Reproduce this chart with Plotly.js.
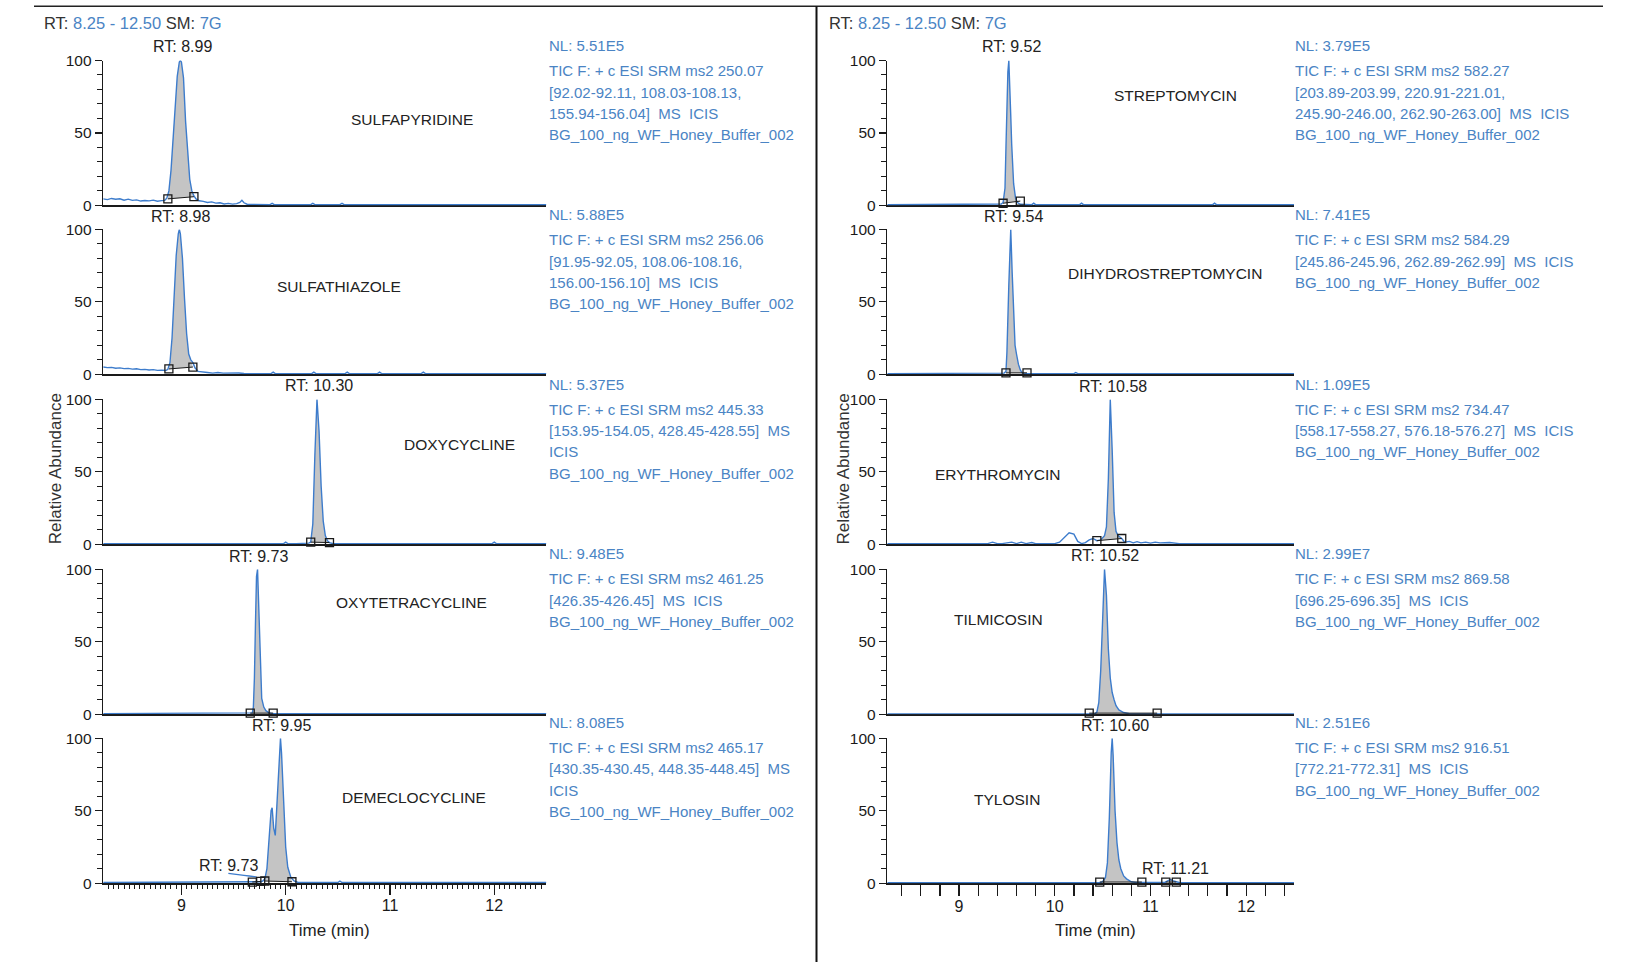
<!DOCTYPE html>
<html><head><meta charset="utf-8">
<script src="https://cdn.plot.ly/plotly-3.0.1.min.js"></script>
<style>html,body{margin:0;padding:0;background:#fff;}#chart{width:1635px;height:962px;}</style>
</head><body><div id="chart"></div>
<script>
// ---------------- DATA ----------------
const compound_names = ["SULFAPYRIDINE","SULFATHIAZOLE","DOXYCYCLINE","OXYTETRACYCLINE","DEMECLOCYCLINE",
                        "STREPTOMYCIN","DIHYDROSTREPTOMYCIN","ERYTHROMYCIN","TILMICOSIN","TYLOSIN"];
const x_tick_labels = ["9","10","11","12"];
const y_tick_labels = ["0","50","100"];

// 1 Sulfapyridine
const sulfapyridine_t = [8.25,8.29,8.33,8.37,8.41,8.45,8.49,8.53,8.57,8.61,8.65,8.69,8.73,8.77,8.81,8.84,
  8.86,8.88,8.90,8.92,8.94,8.96,8.98,8.99,9.00,9.02,9.04,9.06,9.08,9.10,9.12,9.14,
  9.17,9.21,9.25,9.29,9.33,9.37,9.41,9.45,9.49,9.53,9.56,9.58,9.60,9.63,9.70,9.80,
  9.85,9.87,9.89,9.95,10.1,10.24,10.26,10.28,10.4,10.52,10.54,10.56,10.7,11.0,11.5,12.0,12.5];
const sulfapyridine_y = [4.5,4.0,4.8,4.2,4.6,3.6,4.3,3.5,3.8,3.0,3.4,3.1,3.6,2.9,3.3,3.5,
  5,10,24,47,70,89,99,100,99,88,58,34,18,10,6.5,4.5,
  3.2,2.8,2.0,2.4,1.6,1.8,1.0,1.4,0.9,1.2,2.0,3.5,1.8,0.8,0.6,0.5,
  0.5,1.5,0.5,0.5,0.5,0.5,1.5,0.5,0.5,0.5,1.5,0.5,0.5,0.5,0.5,0.5,0.5];
const sulfapyridine_mk_t = [8.87,9.12];
const sulfapyridine_mk_y = [4.5,6];

// 2 Sulfathiazole
const sulfathiazole_t = [8.25,8.29,8.33,8.37,8.41,8.45,8.49,8.53,8.57,8.61,8.65,8.69,8.73,8.77,8.81,8.85,
  8.87,8.89,8.91,8.93,8.95,8.97,8.98,8.99,9.01,9.03,9.05,9.07,9.09,9.11,9.13,
  9.16,9.20,9.25,9.30,9.35,9.40,9.45,9.50,9.55,9.60,9.65,9.70,9.80,
  9.86,9.88,9.90,10.0,10.1,10.25,10.27,10.29,10.4,10.57,10.59,10.61,10.8,10.88,10.90,10.92,11.0,11.3,11.32,11.34,11.5,12.0,12.5];
const sulfathiazole_y = [5,4.6,4.8,4.2,4.4,3.9,4.1,3.6,3.8,3.2,3.4,3.0,3.2,2.7,2.9,2.6,
  3.5,8,25,55,82,97,100,97,80,52,28,14,10,8,4.5,
  2.0,1.5,1.2,0.8,1.2,0.8,1.0,0.7,0.9,0.6,0.8,0.5,0.5,
  0.5,1.5,0.5,0.5,0.5,0.5,1.5,0.5,0.5,0.5,1.5,0.5,0.5,0.5,1.5,0.5,0.5,0.5,1.5,0.5,0.5,0.5,0.5];
const sulfathiazole_mk_t = [8.88,9.11];
const sulfathiazole_mk_y = [3.7,5];

// 3 Doxycycline
const doxycycline_t = [8.25,8.6,9.0,9.4,9.45,9.5,9.55,9.6,9.8,9.98,10.0,10.02,10.1,
  10.20,10.22,10.24,10.26,10.28,10.30,10.32,10.34,10.36,10.38,10.40,10.42,10.45,
  10.6,11.0,11.5,11.98,12.0,12.02,12.5];
const doxycycline_y = [0.5,0.5,0.5,0.5,1.0,0.6,1.0,0.5,0.5,0.5,1.5,0.5,0.5,
  0.6,0.8,1.5,14,62,100,78,40,16,6,2.5,1.2,0.6,
  0.5,0.5,0.5,0.5,1.5,0.5,0.5];
const doxycycline_mk_t = [10.24,10.42];
const doxycycline_mk_y = [1.5,1.2];

// 4 Oxytetracycline
const oxytetracycline_t = [8.25,9.0,9.5,9.64,9.66,9.68,9.69,9.70,9.71,9.72,9.73,9.74,9.75,9.76,9.77,9.79,9.81,9.84,9.88,10.0,11.0,12.5];
const oxytetracycline_y = [0.5,0.5,0.5,0.5,0.5,1,5,25,62,95,100,78,45,22,11,5,2.5,1,0.5,0.5,0.5,0.5];
const oxytetracycline_mk_t = [9.66,9.88];
const oxytetracycline_mk_y = [0.8,0.8];

// 5 Demeclocycline
const demeclocycline_t = [8.25,9.0,9.5,9.70,9.76,9.78,9.80,9.82,9.84,9.86,9.87,9.885,9.90,9.92,9.94,9.95,9.96,9.98,10.00,10.02,10.05,10.08,10.12,10.3,10.50,10.52,10.54,11.0,12.5];
const demeclocycline_y = [0.5,0.5,0.5,0.5,1,1.5,3,10,30,50,52,38,33,62,95,100,90,55,25,11,4,1.5,0.5,0.5,0.5,1.5,0.5,0.5,0.5];
const demeclocycline_side_t = [9.45,9.50,9.55,9.60,9.65,9.70,9.72];
const demeclocycline_side_y = [6.8,6.2,5.8,5.4,5.0,4.6,4.3];
const demeclocycline_mk_t = [9.80,10.06,9.68,9.76];
const demeclocycline_mk_y = [1.5,1.0,0.8,1.2];

// 6 Streptomycin
const streptomycin_t = [8.25,9.0,9.40,9.44,9.46,9.48,9.49,9.50,9.51,9.52,9.53,9.54,9.55,9.57,9.59,9.61,9.64,9.70,9.76,9.78,9.80,10.0,10.26,10.28,10.30,11.0,11.65,11.67,11.69,12.5];
const streptomycin_y = [0.5,0.5,0.5,1,2,12,40,70,92,100,85,62,42,15,5,2,0.8,0.5,0.5,1.5,0.5,0.5,0.5,1.5,0.5,0.5,0.5,1.5,0.5,0.5];
const streptomycin_mk_t = [9.46,9.64];
const streptomycin_mk_y = [1.5,3];

// 7 Dihydrostreptomycin
const dihydrostreptomycin_t = [8.25,9.0,9.44,9.47,9.49,9.50,9.52,9.54,9.555,9.57,9.585,9.60,9.62,9.64,9.66,9.70,10.0,10.2,10.22,10.24,11.0,12.5];
const dihydrostreptomycin_y = [0.5,0.5,0.5,0.8,2,15,62,100,70,38,20,14,7,3,1,0.5,0.5,0.5,1.2,0.5,0.5,0.5];
const dihydrostreptomycin_mk_t = [9.49,9.71];
const dihydrostreptomycin_mk_y = [1,1];

// 8 Erythromycin
const erythromycin_t = [8.25,8.6,9.0,9.3,9.35,9.40,9.45,9.55,9.60,9.65,9.70,9.76,9.80,10.0,10.05,10.10,10.15,10.20,10.24,10.28,10.32,10.36,10.40,10.44,10.48,10.52,10.54,10.56,10.58,10.60,10.62,10.64,10.66,10.68,10.70,10.73,10.78,10.82,10.86,10.9,10.95,11.0,11.05,11.1,11.2,11.3,11.5,12.5];
const erythromycin_y = [0.5,0.5,0.5,0.5,1.5,0.5,0.5,1.5,0.5,1.5,0.5,1.2,0.5,0.5,1.5,4.5,8,7,2,0.5,1.2,3,4,2.5,3,6,12,45,100,65,22,9,6,5,4,1.5,2,1,1.8,1,1.5,0.8,1.5,1.0,1.2,0.5,0.5,0.5];
const erythromycin_mk_t = [10.44,10.70];
const erythromycin_mk_y = [2.5,4];

// 9 Tilmicosin
const tilmicosin_t = [8.25,9.0,10.0,10.36,10.42,10.44,10.46,10.48,10.50,10.52,10.54,10.56,10.58,10.60,10.62,10.64,10.67,10.72,10.78,11.0,12.5];
const tilmicosin_y = [0.3,0.3,0.3,0.3,0.3,1.5,8,30,72,100,82,45,25,15,10,6,3,1.2,0.4,0.3,0.3];
const tilmicosin_mk_t = [10.36,11.07];
const tilmicosin_mk_y = [0.8,0.8];

// 10 Tylosin
const tylosin_t = [8.25,9.0,10.0,10.45,10.47,10.50,10.53,10.55,10.57,10.59,10.60,10.61,10.63,10.65,10.67,10.69,10.72,10.75,10.80,10.85,11.0,11.15,11.19,11.21,11.24,11.30,12.5];
const tylosin_y = [0.3,0.3,0.3,0.3,0.3,1,4,14,45,90,100,88,50,28,16,10,5,3,1,0.5,0.3,0.5,2,2.5,1.5,0.5,0.3];
const tylosin_mk_t = [10.47,10.91,11.16,11.27];
const tylosin_mk_y = [0.8,0.8,0.8,0.8];

const rt_labels = ["RT: 8.99","RT: 8.98","RT: 10.30","RT: 9.73","RT: 9.95",
                   "RT: 9.52","RT: 9.54","RT: 10.58","RT: 10.52","RT: 10.60"];
const extra_rt_labels = ["RT: 9.73","RT: 11.21"];
const nl_labels = ["NL: 5.51E5","NL: 5.88E5","NL: 5.37E5","NL: 9.48E5","NL: 8.08E5",
                   "NL: 3.79E5","NL: 7.41E5","NL: 1.09E5","NL: 2.99E7","NL: 2.51E6"];
const method_lines = [
 ["TIC F: + c ESI SRM ms2 250.07","[92.02-92.11, 108.03-108.13,","155.94-156.04]  MS  ICIS","BG_100_ng_WF_Honey_Buffer_002"],
 ["TIC F: + c ESI SRM ms2 256.06","[91.95-92.05, 108.06-108.16,","156.00-156.10]  MS  ICIS","BG_100_ng_WF_Honey_Buffer_002"],
 ["TIC F: + c ESI SRM ms2 445.33","[153.95-154.05, 428.45-428.55]  MS","ICIS","BG_100_ng_WF_Honey_Buffer_002"],
 ["TIC F: + c ESI SRM ms2 461.25","[426.35-426.45]  MS  ICIS","BG_100_ng_WF_Honey_Buffer_002"],
 ["TIC F: + c ESI SRM ms2 465.17","[430.35-430.45, 448.35-448.45]  MS","ICIS","BG_100_ng_WF_Honey_Buffer_002"],
 ["TIC F: + c ESI SRM ms2 582.27","[203.89-203.99, 220.91-221.01,","245.90-246.00, 262.90-263.00]  MS  ICIS","BG_100_ng_WF_Honey_Buffer_002"],
 ["TIC F: + c ESI SRM ms2 584.29","[245.86-245.96, 262.89-262.99]  MS  ICIS","BG_100_ng_WF_Honey_Buffer_002"],
 ["TIC F: + c ESI SRM ms2 734.47","[558.17-558.27, 576.18-576.27]  MS  ICIS","BG_100_ng_WF_Honey_Buffer_002"],
 ["TIC F: + c ESI SRM ms2 869.58","[696.25-696.35]  MS  ICIS","BG_100_ng_WF_Honey_Buffer_002"],
 ["TIC F: + c ESI SRM ms2 916.51","[772.21-772.31]  MS  ICIS","BG_100_ng_WF_Honey_Buffer_002"]
];
const header_range = "8.25 - 12.50";
const header_sm = "7G";
const x_range = [8.25, 12.5];

// ---------------- LAYOUT / STYLE ----------------
const W = 1635, H = 962;
const FONT = "Liberation Sans, Arial, Helvetica, sans-serif";
const TXT_BLUE = "#4a84c4";
const LINE_BLUE = "#3d7ccc";
const FILL_GRAY = "#c4c4c4";
const DARK = "#1a1a1a";
const px = x => x / W;
const py = y => 1 - y / H;

const colX = [[103.2, 546.4], [887.3, 1294]];
const rowY = [[60.5,205.4],[229.4,374.3],[399.4,544.3],[569.3,714.3],[738.2,883.2]];

const panels = [
 {t:sulfapyridine_t, y:sulfapyridine_y, mt:sulfapyridine_mk_t, my:sulfapyridine_mk_y},
 {t:sulfathiazole_t, y:sulfathiazole_y, mt:sulfathiazole_mk_t, my:sulfathiazole_mk_y},
 {t:doxycycline_t, y:doxycycline_y, mt:doxycycline_mk_t, my:doxycycline_mk_y},
 {t:oxytetracycline_t, y:oxytetracycline_y, mt:oxytetracycline_mk_t, my:oxytetracycline_mk_y},
 {t:demeclocycline_t, y:demeclocycline_y, mt:demeclocycline_mk_t, my:demeclocycline_mk_y,
   st:demeclocycline_side_t, sy:demeclocycline_side_y},
 {t:streptomycin_t, y:streptomycin_y, mt:streptomycin_mk_t, my:streptomycin_mk_y},
 {t:dihydrostreptomycin_t, y:dihydrostreptomycin_y, mt:dihydrostreptomycin_mk_t, my:dihydrostreptomycin_mk_y},
 {t:erythromycin_t, y:erythromycin_y, mt:erythromycin_mk_t, my:erythromycin_mk_y},
 {t:tilmicosin_t, y:tilmicosin_y, mt:tilmicosin_mk_t, my:tilmicosin_mk_y},
 {t:tylosin_t, y:tylosin_y, mt:tylosin_mk_t, my:tylosin_mk_y}
];

// label positions (pixels)
const namePos = [[412,119],[339,286],[459,444],[411,602],[414,797],
                 [1175,95],[1165,273],[997,474],[998,619],[1007,799]];
const rtPos = [[182.5,46],[180,216],[319,386],[258.6,556],[281.5,725],
               [1011,46],[1013.5,216],[1112.5,387],[1105,555],[1114.6,725]];
const extraRtPos = [[229,865.5],[1175,868.5]];
const nlY = [45.9,214.8,384.3,553.7,722.6];
const textX = [547.4, 1293];

const traces = [];
const layout = {
  width: W, height: H, margin: {l:0,r:0,t:0,b:0},
  paper_bgcolor: "#fff", plot_bgcolor: "rgba(0,0,0,0)",
  showlegend: false, font: {family: FONT, color: DARK},
  annotations: [], shapes: []
};

const leftMinor = [];
for (let v = 8.30; v < 12.5; v += 0.05) leftMinor.push(+v.toFixed(2));
const rightTicks = [], rightText = [];
for (let v = 8.4; v < 12.5; v += 0.2) {
  const r = +v.toFixed(1);
  rightTicks.push(r);
  rightText.push(Math.abs(r - Math.round(r)) < 1e-6 ? String(Math.round(r)) : "");
}

panels.forEach((p, i) => {
  const col = i < 5 ? 0 : 1, row = i % 5, n = i + 1;
  const xa = "x" + (n === 1 ? "" : n), ya = "y" + (n === 1 ? "" : n);
  const xk = "xaxis" + (n === 1 ? "" : n), yk = "yaxis" + (n === 1 ? "" : n);
  const xd = [px(colX[col][0]), px(colX[col][1])];
  const yd = [py(rowY[row][1]), py(rowY[row][0])];
  const bottom = row === 4;
  const xax = {
    domain: xd, anchor: ya, range: x_range, showline: true, linecolor: DARK, linewidth: 1.5,
    showgrid: false, zeroline: false, layer: "below traces", fixedrange: true,
    showticklabels: bottom, ticks: bottom ? "outside" : ""
  };
  if (bottom) {
    xax.tickfont = {family: FONT, size: 16, color: DARK};
    xax.tickcolor = DARK; xax.tickwidth = 1.2;
    xax.ticklabelstandoff = -3;
    if (col === 0) {
      xax.tickmode = "array"; xax.tickvals = [9,10,11,12]; xax.ticktext = x_tick_labels;
      xax.ticklen = 10;
      xax.minor = {tickmode: "array", tickvals: leftMinor, ticklen: 4, ticks: "outside", tickcolor: DARK, tickwidth: 1};
    } else {
      xax.tickmode = "array"; xax.tickvals = rightTicks; xax.ticktext = rightText;
      xax.ticklen = 11;
    }
  }
  layout[xk] = xax;
  layout[yk] = {
    domain: yd, anchor: xa, range: [0, 100], showline: true, linecolor: DARK, linewidth: 1.5,
    showgrid: false, zeroline: false, fixedrange: true, layer: "below traces",
    ticks: "outside", tickmode: "array", tickvals: [0,50,100], ticktext: y_tick_labels,
    ticklen: 7, tickcolor: DARK, tickwidth: 1.2,
    tickfont: {family: FONT, size: 15.5, color: DARK},
    minor: {tickmode: "array", tickvals: [10,20,30,40,60,70,80,90], ticklen: 5, ticks: "outside", tickcolor: DARK, tickwidth: 1}
  };

  // fill between curve and integration baseline (first marker pair)
  const t0 = p.mt[0], t1 = p.mt[1], y0 = p.my[0], y1 = p.my[1];
  const fx = [t0], fy = [y0];
  p.t.forEach((tv, k) => { if (tv > t0 && tv < t1) { fx.push(tv); fy.push(p.y[k]); } });
  fx.push(t1); fy.push(y1);
  traces.push({x: fx, y: fy, xaxis: xa, yaxis: ya, mode: "lines", fill: "toself",
    fillcolor: FILL_GRAY, line: {width: 0, color: FILL_GRAY}, hoverinfo: "skip"});
  traces.push({x: p.t, y: p.y, xaxis: xa, yaxis: ya, mode: "lines",
    line: {color: LINE_BLUE, width: 1.4}, hoverinfo: "skip"});
  if (p.st) traces.push({x: p.st, y: p.sy, xaxis: xa, yaxis: ya, mode: "lines",
    line: {color: LINE_BLUE, width: 1.4}, hoverinfo: "skip"});
  // integration markers (pairs)
  const mx = [], my = [];
  for (let k = 0; k < p.mt.length; k += 2) {
    if (k > 0) { mx.push(null); my.push(null); }
    mx.push(p.mt[k], p.mt[k+1]); my.push(p.my[k], p.my[k+1]);
  }
  traces.push({x: mx, y: my, xaxis: xa, yaxis: ya, mode: "lines+markers", cliponaxis: false,
    line: {color: DARK, width: 1}, marker: {symbol: "square-open", size: 8, color: DARK, line: {width: 1.3, color: DARK}},
    hoverinfo: "skip"});

  const A = layout.annotations;
  const ann = (x, y, text, opts) => A.push(Object.assign({xref: "paper", yref: "paper", x: px(x), y: py(y),
      text: text, showarrow: false, xanchor: "center", yanchor: "middle",
      font: {family: FONT, size: 15, color: DARK}}, opts || {}));
  ann(namePos[i][0], namePos[i][1], compound_names[i], {font: {family: FONT, size: 15.5, color: "#222"}});
  ann(rtPos[i][0], rtPos[i][1], rt_labels[i], {font: {family: FONT, size: 16, color: "#222"}});
  ann(textX[col], nlY[row], nl_labels[i], {xanchor: "left", font: {family: FONT, size: 15, color: TXT_BLUE}});
  method_lines[i].forEach((ln, k) => {
    ann(textX[col], nlY[row] + 25 + k * 21.3, ln, {xanchor: "left", font: {family: FONT, size: 15, color: TXT_BLUE}});
  });
});

const A = layout.annotations;
extra_rt_labels.forEach((s, k) => A.push({xref: "paper", yref: "paper", x: px(extraRtPos[k][0]), y: py(extraRtPos[k][1]),
  text: s, showarrow: false, xanchor: "center", yanchor: "middle", font: {family: FONT, size: 16, color: "#222"}}));
[41.7, 827].forEach(x => A.push({xref: "paper", yref: "paper", x: px(x), y: py(23), xanchor: "left", yanchor: "middle",
  showarrow: false, font: {family: FONT, size: 16.5, color: "#333"},
  text: "RT: <span style='color:" + TXT_BLUE + "'>" + header_range + "</span> SM: <span style='color:" + TXT_BLUE + "'>" + header_sm + "</span>"}));
[55.3, 842.5].forEach(x => A.push({xref: "paper", yref: "paper", x: px(x), y: py(469), textangle: -90,
  xanchor: "center", yanchor: "middle", showarrow: false, text: "Relative Abundance",
  font: {family: FONT, size: 17, color: "#333"}}));
[329.5, 1095].forEach(x => A.push({xref: "paper", yref: "paper", x: px(x), y: py(930),
  xanchor: "center", yanchor: "middle", showarrow: false, text: "Time (min)",
  font: {family: FONT, size: 17, color: "#222"}}));

layout.shapes.push({type: "line", xref: "paper", yref: "paper", x0: px(34), x1: px(1603), y0: py(6.3), y1: py(6.3),
  line: {color: "#222", width: 1.5}});
layout.shapes.push({type: "line", xref: "paper", yref: "paper", x0: px(816.5), x1: px(816.5), y0: py(6.3), y1: 0,
  line: {color: "#111", width: 2}});

Plotly.newPlot("chart", traces, layout, {staticPlot: true, displayModeBar: false});
</script></body></html>
